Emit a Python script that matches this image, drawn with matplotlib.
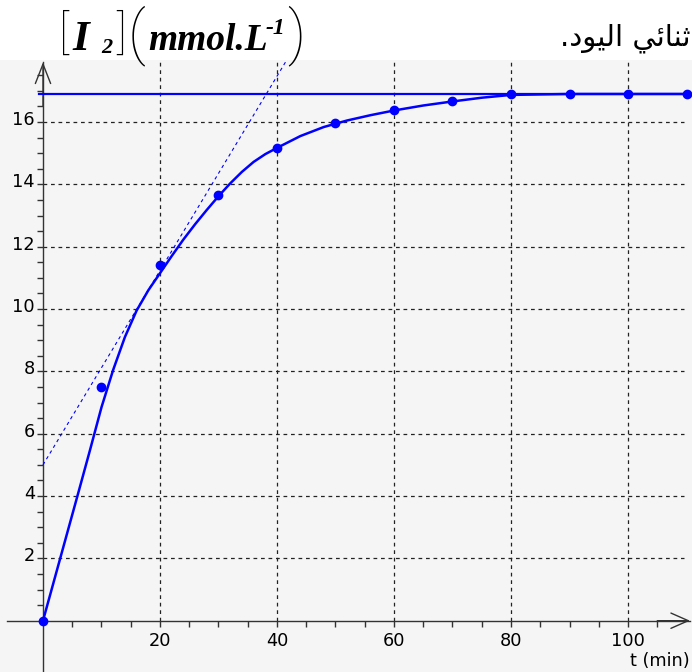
import numpy as np
import matplotlib
matplotlib.use("Agg")
import matplotlib.pyplot as plt
from matplotlib.ticker import FixedLocator, NullFormatter, FixedFormatter
from matplotlib.transforms import ScaledTranslation

# ---- data ----
t_points = [0, 10, 20, 30, 40, 50, 60, 70, 80, 90, 100, 110]
c_points = [0, 7.5, 11.4, 13.66, 15.17, 15.97, 16.38, 16.67, 16.89, 16.89, 16.89, 16.89]

curve_t = [0, 2, 4, 6, 8, 10, 12, 14, 16, 18, 20, 22, 24, 26, 28, 30, 32, 34, 36, 38, 40,
           44, 48, 52, 56, 60, 65, 70, 75, 80, 90, 100, 110]
curve_c = [0, 1.36, 2.72, 4.08, 5.45, 6.85, 8.05, 9.1, 9.95, 10.6, 11.15, 11.7, 12.23,
           12.72, 13.18, 13.62, 14.03, 14.4, 14.72, 14.97, 15.17,
           15.55, 15.84, 16.05, 16.22, 16.37, 16.53, 16.66, 16.78, 16.87, 16.9, 16.9, 16.9]

tangent_t = [0, 41.7]
tangent_c = [5.0, 18.0]

plateau_t = [-0.7, 110.9]
plateau_c = [16.9, 16.9]

x_major = [20, 40, 60, 80, 100]
x_labels = ["20", "40", "60", "80", "100"]
y_major = [2, 4, 6, 8, 10, 12, 14, 16]
y_labels = ["2", "4", "6", "8", "10", "12", "14", "16"]
x_minor = list(np.arange(5, 110, 5))
y_minor = list(np.arange(0.5, 18, 0.5))

# "ثنائي اليود." written in presentation forms, visual order
arabic_text = ".\uFEA9\uFEEE\uFEF4\uFEDF\uFE8D \uFEF2\uFE8B\uFE8E\uFEE8\uFE9B"
x_unit = "t (min)"

W, H = 692, 672
fig = plt.figure(figsize=(W / 100, H / 100), dpi=100)
fig.patch.set_facecolor('white')
ax = fig.add_axes([0, 0, 1, 612 / H])
ax.set_facecolor('#f5f5f5')

ax.set_xlim(-7.35, 110.94)
ax.set_ylim(-1.646, 17.99)

axis_col = '#333333'
for s in ['top', 'right']:
    ax.spines[s].set_visible(False)
ax.spines['left'].set_position(('data', 0))
ax.spines['bottom'].set_position(('data', 0))
ax.spines['left'].set_bounds(-1.646, 17.92)
ax.spines['bottom'].set_bounds(-6.2, 110.6)
for s in ['left', 'bottom']:
    ax.spines[s].set_color(axis_col)
    ax.spines[s].set_linewidth(1.0)

# arrow heads
ax.annotate('', xy=(0, 17.92), xytext=(0, 16.5),
            arrowprops=dict(arrowstyle='->,head_length=1.4,head_width=0.55', lw=1.0,
                            color=axis_col, shrinkA=0, shrinkB=0, mutation_scale=10))
ax.annotate('', xy=(110.6, 0), xytext=(105, 0),
            arrowprops=dict(arrowstyle='->,head_length=1.25,head_width=0.55', lw=1.0,
                            color=axis_col, shrinkA=0, shrinkB=0, mutation_scale=10))

ax.xaxis.set_major_locator(FixedLocator(x_major))
ax.xaxis.set_major_formatter(FixedFormatter(x_labels))
ax.xaxis.set_minor_locator(FixedLocator(x_minor))
ax.xaxis.set_minor_formatter(NullFormatter())
ax.yaxis.set_major_locator(FixedLocator(y_major))
ax.yaxis.set_major_formatter(FixedFormatter(y_labels))
ax.yaxis.set_minor_locator(FixedLocator(y_minor))
ax.yaxis.set_minor_formatter(NullFormatter())

ax.tick_params(which='both', direction='out', length=4.3, width=1.0, color=axis_col,
               labelsize=12.8, labelcolor='black')
ax.tick_params(axis='x', which='major', pad=3.6)
ax.tick_params(axis='y', which='major', pad=1.5)

for lab in ax.get_yticklabels():
    lab.set_transform(lab.get_transform() + ScaledTranslation(0, 4 / 100, fig.dpi_scale_trans))

# grid (dashed, only in the positive quadrant)
grid_kw = dict(color='#222222', lw=0.9, linestyle=(0, (3, 3)), zorder=1)
ax.vlines(x_major, 0, 18, **grid_kw)
ax.hlines(y_major, 0, 109.5, **grid_kw)

blue = '#0000ff'
ax.plot(plateau_t, plateau_c, color=blue, lw=1.6, zorder=3)
ax.plot(tangent_t, tangent_c, color=blue, lw=0.8, linestyle=(0, (3, 3)), zorder=3)
ax.plot(curve_t, curve_c, color=blue, lw=1.8, zorder=4, solid_capstyle='round',
        solid_joinstyle='round')
ax.plot(t_points, c_points, 'o', color=blue, markersize=6, zorder=5, clip_on=False)

ax.text(110.6, -1.3, x_unit, ha='right', va='center', fontsize=12.8, color='black')

# ---- title pieces: [I2] (mmol.L-1) ----
def px(x, y):
    return x / W, 1 - y / H

serif = 'Liberation Serif'
delim = 'Roboto'
title_pieces = [
    # text, x, y, size, family, style, weight, ha, va
    ("[", 64, 34, 33, delim, 'normal', 'light', 'center', 'center'),
    ("I", 72, 50, 31, serif, 'italic', 'bold', 'left', 'baseline'),
    ("2", 101, 53, 16, serif, 'italic', 'bold', 'left', 'baseline'),
    ("]", 121, 34, 33, delim, 'normal', 'light', 'center', 'center'),
    ("(", 137, 36, 43, delim, 'normal', 'light', 'center', 'center'),
    ("mmol.L", 148, 50, 27, serif, 'italic', 'bold', 'left', 'baseline'),
    ("-1", 266, 34, 17, serif, 'italic', 'bold', 'left', 'baseline'),
    (")", 296, 36, 43, delim, 'normal', 'light', 'center', 'center'),
]
for txt, x, y, size, fam, style, weight, ha, va in title_pieces:
    fx, fy = px(x, y)
    fig.text(fx, fy, txt, ha=ha, va=va, fontsize=size, family=fam,
             style=style, weight=weight)

fx, fy = px(690, 45)
fig.text(fx, fy, arabic_text, ha='right', va='baseline', fontsize=21, family='DejaVu Sans')

fig.savefig('out.png', dpi=100)
